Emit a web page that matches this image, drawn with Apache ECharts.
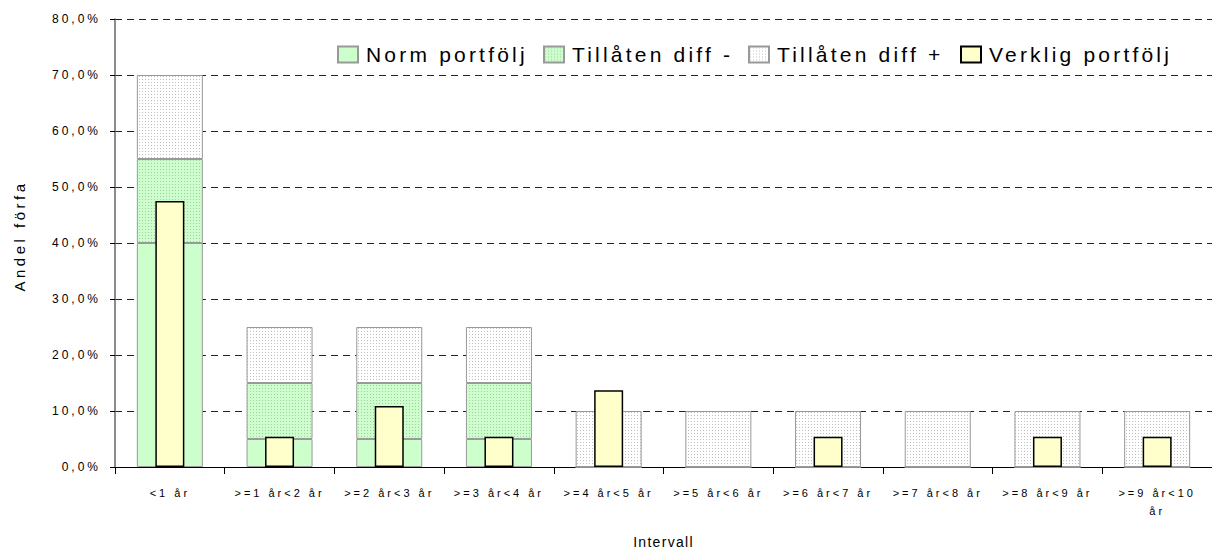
<!DOCTYPE html>
<html>
<head>
<meta charset="utf-8">
<script src="https://cdn.jsdelivr.net/npm/echarts@6/dist/echarts.min.js"></script>
<style>
  html, body { margin: 0; padding: 0; background: #fff; overflow: hidden; }
  #chart { width: 1212px; height: 550px; }
  /* the original chart draws its text with wide letter spacing */
  #chart [style*="21px"] { letter-spacing: 3.2px; }
  #chart [style*="11px"] { letter-spacing: 3px; }
  #chart [style*="12px"] { letter-spacing: 3px; }
  #chart [style*="15px"] { letter-spacing: 3.5px; }
  #chart [style*="14px"] { letter-spacing: 1.3px; }
</style>
</head>
<body>
<div id="chart"></div>
<script>
let categories = ['<1 år', '>=1 år<2 år', '>=2 år<3 år', '>=3 år<4 år', '>=4 år<5 år',
                  '>=5 år<6 år', '>=6 år<7 år', '>=7 år<8 år', '>=8 år<9 år', '>=9 år<10\når'];
let normPortfolj = [40, 5, 5, 5, 0, 0, 0, 0, 0, 0];
let diffMinus = [15, 10, 10, 10, 0, 0, 0, 0, 0, 0];
let diffPlus = [15, 10, 10, 10, 10, 10, 10, 10, 10, 10];
let verklig = [47.5, 5.4, 10.9, 5.4, 13.7, 0, 5.4, 0, 5.4, 5.4];
let seriesNames = ['Norm portfölj', 'Tillåten diff -', 'Tillåten diff +', 'Verklig portfölj'];
let legendLeft = [337, 543, 748, 960];

function dotPattern(bg, dot) {
    let c = document.createElement('canvas');
    c.width = 3;
    c.height = 3;
    let ctx = c.getContext('2d');
    ctx.fillStyle = bg;
    ctx.fillRect(0, 0, 3, 3);
    ctx.fillStyle = dot;
    ctx.fillRect(1, 1, 1, 1);
    return { image: c, repeat: 'repeat' };
}

// empty cells are not drawn in the original, so 0 -> no bar
function noZero(arr) {
    return arr.map(function (v) { return v === 0 ? null : v; });
}

let font = 'Liberation Sans';
let legends = seriesNames.map(function (name, i) {
    return {
        data: [name],
        left: legendLeft[i],
        top: 44,
        padding: 0,
        icon: 'rect',
        itemWidth: 20,
        itemHeight: 16,
        selectedMode: false,
        textStyle: { fontSize: 21, color: '#000', fontFamily: font, padding: [0, 0, 0, 3] }
    };
});

let chart = echarts.init(document.getElementById('chart'), null, { renderer: 'svg' });
chart.setOption({
    animation: false,
    textStyle: { fontFamily: font, color: '#000' },
    grid: { left: 115, right: 0, top: 19, bottom: 83, containLabel: false, outerBoundsMode: 'none' },
    legend: legends,
    xAxis: [{
        type: 'category',
        data: categories,
        name: 'Intervall',
        nameLocation: 'middle',
        nameGap: 68,
        nameTextStyle: { fontSize: 14, color: '#000' },
        axisLine: { lineStyle: { color: '#000', width: 1 } },
        axisTick: { show: true, length: 7, lineStyle: { color: '#000' } },
        axisLabel: { interval: 0, fontSize: 11, color: '#000', margin: 17, lineHeight: 18 }
    }, {
        type: 'category',
        data: categories,
        show: false
    }],
    yAxis: {
        type: 'value',
        min: 0,
        max: 80,
        interval: 10,
        name: 'Andel förfa',
        nameLocation: 'middle',
        nameGap: 88,
        nameRotate: 90,
        nameTextStyle: { fontSize: 15, color: '#000', padding: [0, 0, 0, 14] },
        axisLine: { show: true, lineStyle: { color: '#666', width: 1.5 } },
        axisTick: { show: true, length: 5, lineStyle: { color: '#000' } },
        axisLabel: {
            fontSize: 12, color: '#000', margin: 14,
            formatter: function (v) { return v.toFixed(1).replace('.', ',') + '%'; }
        },
        splitLine: { lineStyle: { color: '#222', type: [7, 5], width: 1 } }
    },
    series: [{
        name: seriesNames[0],
        type: 'bar',
        stack: 'norm',
        barWidth: 66,
        itemStyle: { color: '#ccffcc', borderColor: '#999', borderWidth: 1 },
        data: normPortfolj
    }, {
        name: seriesNames[1],
        type: 'bar',
        stack: 'norm',
        barWidth: 66,
        itemStyle: { color: dotPattern('#ccffcc', '#a8c8a8'), borderColor: '#999', borderWidth: 1 },
        data: diffMinus
    }, {
        name: seriesNames[2],
        type: 'bar',
        stack: 'norm',
        barWidth: 66,
        itemStyle: { color: dotPattern('#ffffff', '#c0c0c0'), borderColor: '#999', borderWidth: 1 },
        data: diffPlus
    }, {
        name: seriesNames[3],
        type: 'bar',
        xAxisIndex: 1,
        barWidth: 29,
        itemStyle: { color: '#ffffcc', borderColor: '#000', borderWidth: 1.5 },
        data: noZero(verklig)
    }]
});
</script>
</body>
</html>
